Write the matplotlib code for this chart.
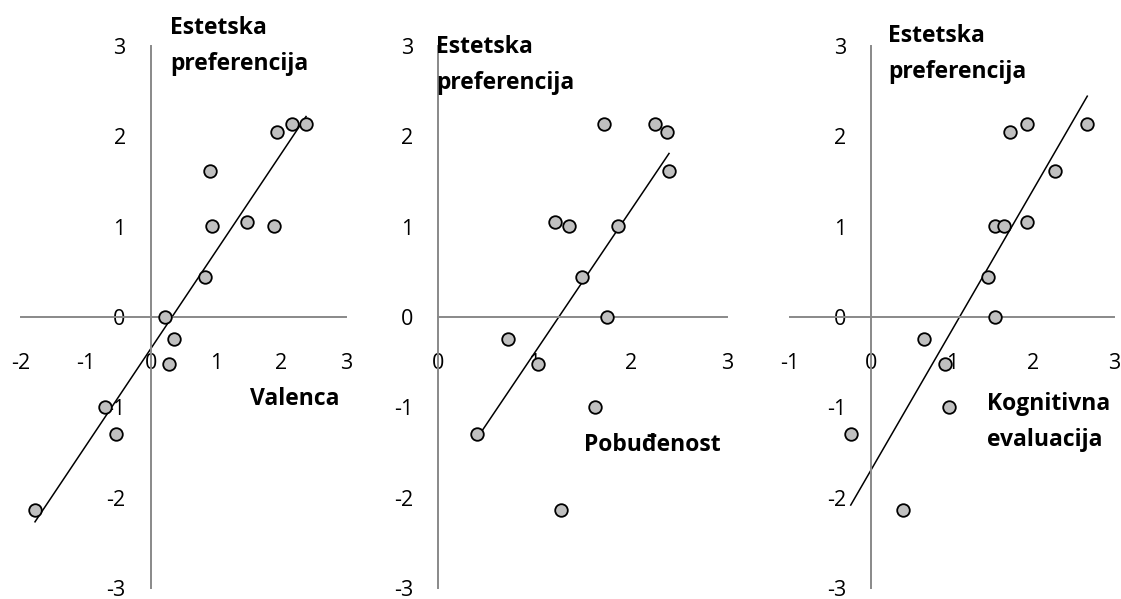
import matplotlib.pyplot as plt
import numpy as np

plt.rcParams['font.family'] = ['Open Sans', 'DejaVu Sans']
plt.rcParams['axes.unicode_minus'] = False

# Valenca
val_x = [-1.78, -0.71, -0.54, 0.22, 0.36, 0.28, 0.83, 0.91, 0.94, 1.48, 1.90, 1.95, 2.17, 2.39]
val_y = [-2.14, -1.00, -1.30, 0.00, -0.24, -0.52, 0.44, 1.62, 1.01, 1.05, 1.01, 2.05, 2.14, 2.14]

# Pobudjenost
pob_x = [0.40, 0.72, 1.04, 1.21, 1.36, 1.28, 1.49, 1.63, 1.72, 1.76, 1.87, 2.25, 2.38, 2.40]
pob_y = [-1.30, -0.24, -0.52, 1.05, 1.01, -2.14, 0.44, -1.00, 2.14, 0.00, 1.01, 2.14, 2.05, 1.62]

# Kognitivna evaluacija
kog_x = [-0.25, 0.40, 0.66, 0.91, 0.96, 1.45, 1.53, 1.53, 1.64, 1.71, 1.93, 1.93, 2.27, 2.67]
kog_y = [-1.30, -2.14, -0.24, -0.52, -1.00, 0.44, 0.00, 1.01, 1.01, 2.05, 2.14, 1.05, 1.62, 2.14]

y_ticks = [-3, -2, -1, 0, 1, 2, 3]

W, H = 1121, 599
fig = plt.figure(figsize=(W / 100, H / 100), dpi=100)

def make_ax(x0, x1):
    return fig.add_axes([x0 / W, (H - 588) / H, (x1 - x0) / W, (588 - 46) / H])

panels = [
    (val_x, val_y, -2, 20.7, 345.7),
    (pob_x, pob_y, 0, 438.3, 726.7),
    (kog_x, kog_y, -1, 790, 1114),
]

axes_gray = '#898989'
for xs, ys, xmin, p0, p1 in panels:
    ax = make_ax(p0, p1)
    ax.patch.set_alpha(0)
    ax.set_xlim(xmin, 3)
    ax.set_ylim(-3, 3)
    ax.set_xticks(range(xmin, 4))
    ax.set_yticks(y_ticks)
    for s in ['top', 'right']:
        ax.spines[s].set_visible(False)
    for s in ['left', 'bottom']:
        ax.spines[s].set_position(('data', 0))
        ax.spines[s].set_color(axes_gray)
        ax.spines[s].set_linewidth(1.4)
    ax.tick_params(length=0, labelsize=15.5, colors='black')
    ax.tick_params(axis='x', pad=26)
    ax.tick_params(axis='y', pad=18)

    k, b = np.polyfit(xs, ys, 1)
    lx = np.array([min(xs), max(xs)])
    ax.plot(lx, k * lx + b, color='black', lw=1.1, clip_on=False, zorder=2)
    ax.scatter(xs, ys, s=82, facecolor='#c0c0c0', edgecolor='black',
               linewidth=1.3, clip_on=False, zorder=3)

def label(x, y, txt, ha='left'):
    fig.text(x / W, 1 - y / H, txt, ha=ha, va='center', fontsize=16.5,
             fontweight='bold', linespacing=1.65)

label(170, 46, 'Estetska\npreferencija')
label(436, 65, 'Estetska\npreferencija')
label(888, 54, 'Estetska\npreferencija')
label(295, 399, 'Valenca', ha='center')
label(652, 445, 'Pobuđenost', ha='center')
label(987, 422, 'Kognitivna\nevaluacija')

fig.savefig('out.png', dpi=100)
